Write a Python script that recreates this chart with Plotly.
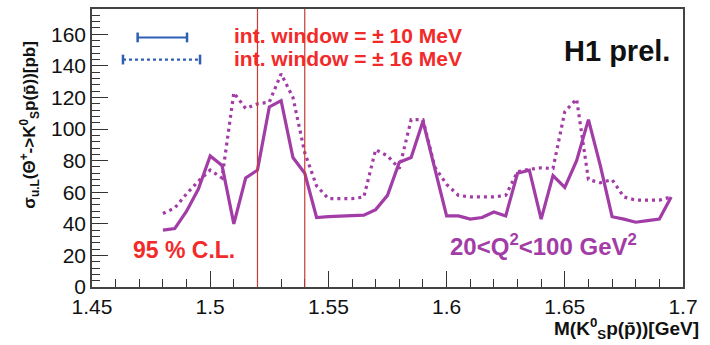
import plotly.graph_objects as go

# Invariant mass bin centres [GeV]
mass = [1.480, 1.485, 1.490, 1.495, 1.500, 1.505, 1.510, 1.515, 1.520, 1.525,
        1.530, 1.535, 1.540, 1.545, 1.550, 1.555, 1.560, 1.565, 1.570, 1.575,
        1.580, 1.585, 1.590, 1.595, 1.600, 1.605, 1.610, 1.615, 1.620, 1.625,
        1.630, 1.635, 1.640, 1.645, 1.650, 1.655, 1.660, 1.665, 1.670, 1.675,
        1.680, 1.685, 1.690, 1.695]

# 95% C.L. upper limit [pb], integration window +-10 MeV
limit_10mev = [36, 37, 48, 62, 83, 77, 40, 69, 74, 114,
               118, 82, 72, 44, 44.5, 45, 45, 45.5, 49, 58,
               79, 82, 105, 74, 45, 45, 43, 44, 47.5, 45,
               72, 74, 43, 70.5, 63, 80, 106, 77, 44.5, 43,
               41, 42, 43, 57]

# 95% C.L. upper limit [pb], integration window +-16 MeV
limit_16mev = [46.5, 50, 59, 67, 74, 69, 123, 113, 116, 117,
               135, 120, 85, 64, 56, 56, 56, 57, 87, 83,
               75, 106, 106, 76, 65, 58, 57, 57, 57, 58,
               73, 74.5, 75.5, 75, 111, 119, 68, 66, 68, 57,
               55, 55, 55, 57]

# Expected Theta+ mass window
window_edges = [1.52, 1.54]

x_ticks = [1.45, 1.5, 1.55, 1.6, 1.65, 1.7]
x_tick_text = ["1.45", "1.5", "1.55", "1.6", "1.65", "1.7"]
y_ticks = [0, 20, 40, 60, 80, 100, 120, 140, 160]

PURPLE = "#a23ca6"
RED = "#f22a2a"
BLUE = "#2f5fb3"
FONT = "Liberation Sans"

fig = go.Figure()

fig.add_trace(go.Scatter(
    x=mass, y=limit_16mev, mode="lines",
    line=dict(color=PURPLE, width=3.2, dash="3px,4px"),
    showlegend=False, hoverinfo="skip"))
fig.add_trace(go.Scatter(
    x=mass, y=limit_10mev, mode="lines",
    line=dict(color=PURPLE, width=3.2),
    showlegend=False, hoverinfo="skip"))

# window markers
for xv in window_edges:
    fig.add_shape(type="line", xref="x", yref="paper", x0=xv, x1=xv, y0=0, y1=1,
                  line=dict(color="#c83a3a", width=1.2))

# legend samples (solid / dotted with end caps)
legend_solid_x = [1.4693, 1.4902]
legend_dot_x = [1.4631, 1.4957]
legend_y = [158, 144]
fig.add_trace(go.Scatter(
    x=legend_solid_x, y=[legend_y[0]] * 2, mode="lines+markers",
    line=dict(color=BLUE, width=2),
    marker=dict(symbol="line-ns", size=7, line=dict(color=BLUE, width=2.5)),
    showlegend=False, hoverinfo="skip"))
fig.add_trace(go.Scatter(
    x=legend_dot_x, y=[legend_y[1]] * 2, mode="lines+markers",
    line=dict(color=BLUE, width=2.2, dash="dot"),
    marker=dict(symbol="line-ns", size=7, line=dict(color=BLUE, width=2.5)),
    showlegend=False, hoverinfo="skip"))

def note(text, x, y, xanchor, color, size, bold=True, **kw):
    fig.add_annotation(
        text=f"<b>{text}</b>" if bold else text, xref="paper", yref="paper",
        x=x, y=y, xanchor=xanchor, yanchor="middle", showarrow=False,
        font=dict(family=FONT, size=size, color=color), **kw)

note("int. window = ± 10 MeV", 0.237, 0.905, "left", RED, 21)
note("int. window = ± 16 MeV", 0.237, 0.823, "left", RED, 21)
note("H1 prel.", 0.982, 0.850, "right", "#111111", 29)
note("95 % C.L.", 0.066, 0.134, "left", RED, 23)
note("20&lt;Q<sup>2</sup>&lt;100 GeV<sup>2</sup>", 0.926, 0.15, "right", PURPLE, 24)
note("M(K<sup>0</sup><sub>S</sub>p(p̄))[GeV]", 1.03, -0.15, "right", "#111111", 19)
note("σ<sub>u.L</sub>(Θ<sup>+</sup>->K<sup>0</sup><sub>S</sub>p(p̄))[pb]", -0.106, 0.585,
     "center", "#111111", 17, textangle=-90)

axis_common = dict(
    showline=True, linecolor="#444444", linewidth=1.5, mirror=True,
    showgrid=False, zeroline=False, ticks="inside", tickcolor="#333333",
    tickwidth=1.2, ticklen=16,
    tickfont=dict(family=FONT, size=21, color="#111111"),
)

fig.update_xaxes(
    range=[1.45, 1.7], tickvals=x_ticks, ticktext=x_tick_text,
    minor=dict(dtick=0.01, tick0=1.45, ticks="inside", ticklen=8,
               tickcolor="#333333", tickwidth=1),
    **axis_common)
fig.update_yaxes(
    range=[0, 176], tickvals=y_ticks,
    minor=dict(dtick=4, tick0=0, ticks="inside", ticklen=8,
               tickcolor="#333333", tickwidth=1),
    **axis_common)

fig.update_layout(
    width=710, height=345,
    margin=dict(l=92, r=27, t=7, b=58),
    paper_bgcolor="white", plot_bgcolor="white",
    font=dict(family=FONT),
)

fig.write_html("out.html")
